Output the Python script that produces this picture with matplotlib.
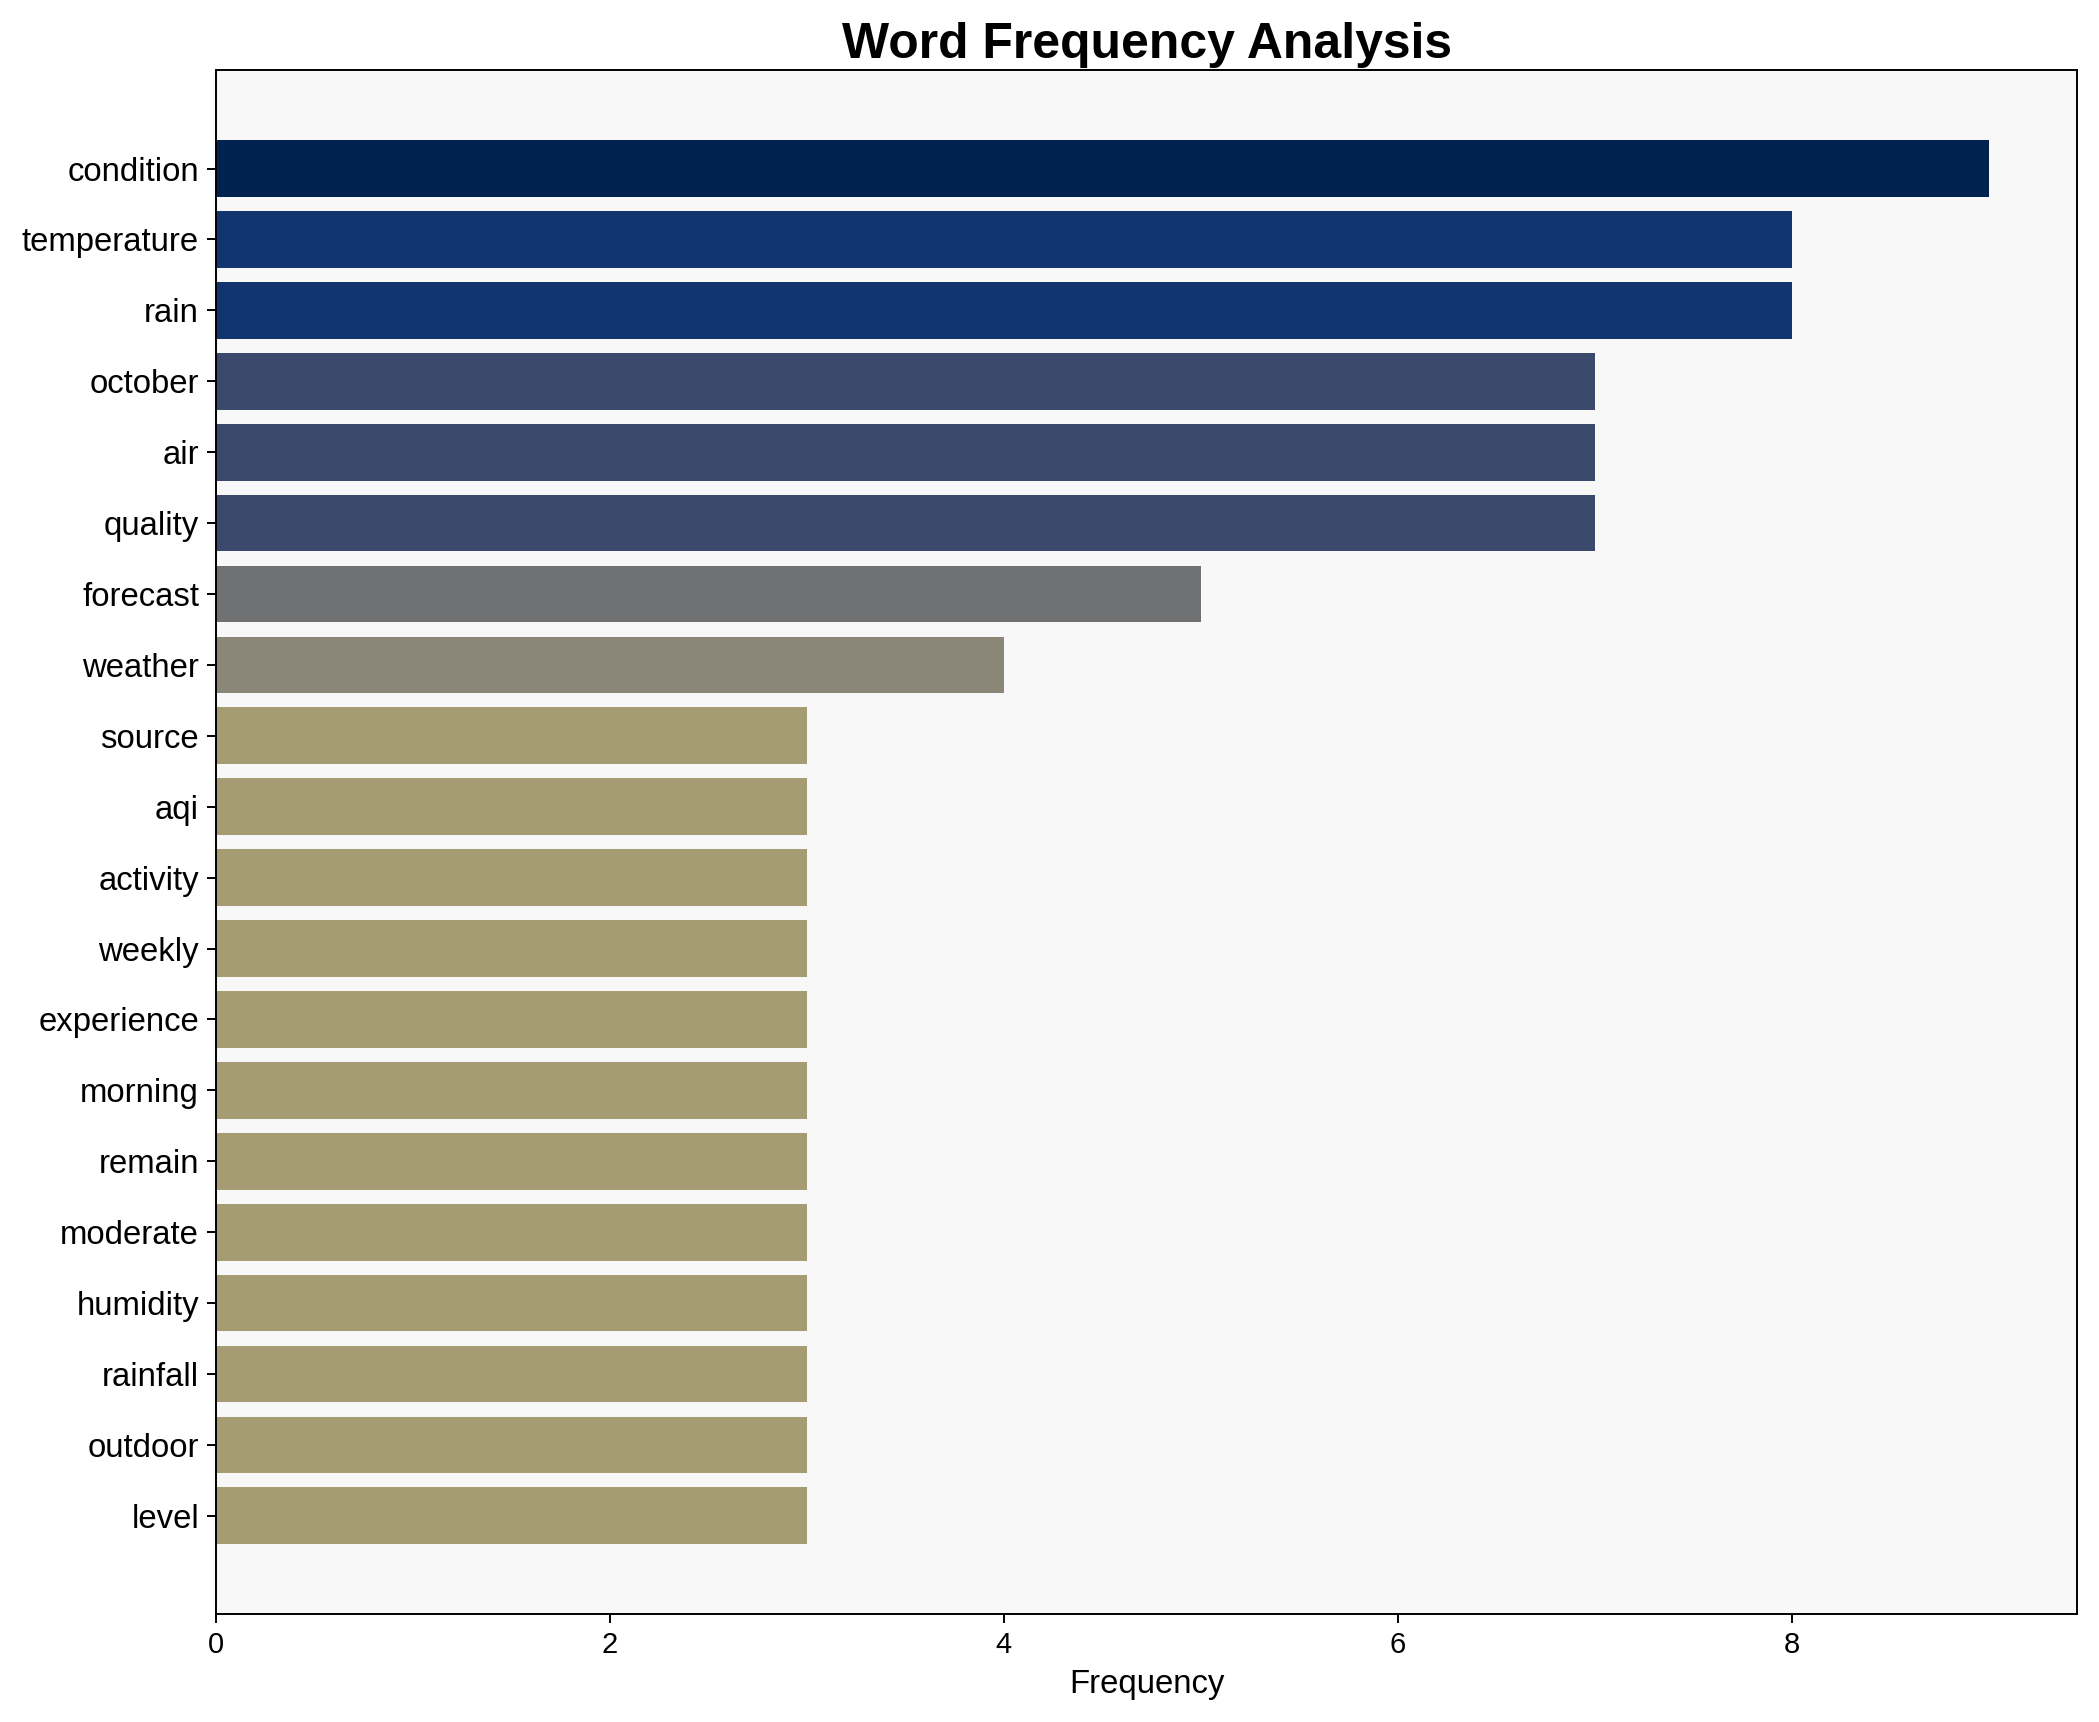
import matplotlib
matplotlib.use("Agg")
import matplotlib.pyplot as plt
import numpy as np

plt.rcParams['font.family'] = ['Liberation Sans', 'DejaVu Sans']

words = ["condition", "temperature", "rain", "october", "air", "quality", "forecast",
         "weather", "source", "aqi", "activity", "weekly", "experience", "morning",
         "remain", "moderate", "humidity", "rainfall", "outdoor", "level"]
freqs = [9, 8, 8, 7, 7, 7, 5, 4, 3, 3, 3, 3, 3, 3, 3, 3, 3, 3, 3, 3]

fig, ax = plt.subplots(figsize=(2099/175, 1722/175), dpi=175)
vals = np.array(freqs)
colors = plt.cm.cividis(1 - vals / vals.max())
ax.barh(words, freqs, color=colors, height=0.8)
ax.invert_yaxis()
ax.set_facecolor('#f8f8f8')
ax.set_title("Word Frequency Analysis", fontsize=20.5, fontweight='bold', pad=5)
ax.set_xlabel("Frequency", fontsize=13.5)
ax.tick_params(axis='y', labelsize=13.5)
ax.tick_params(axis='x', labelsize=12)
fig.tight_layout(pad=0.9)
fig.savefig("out.png", dpi=175)
